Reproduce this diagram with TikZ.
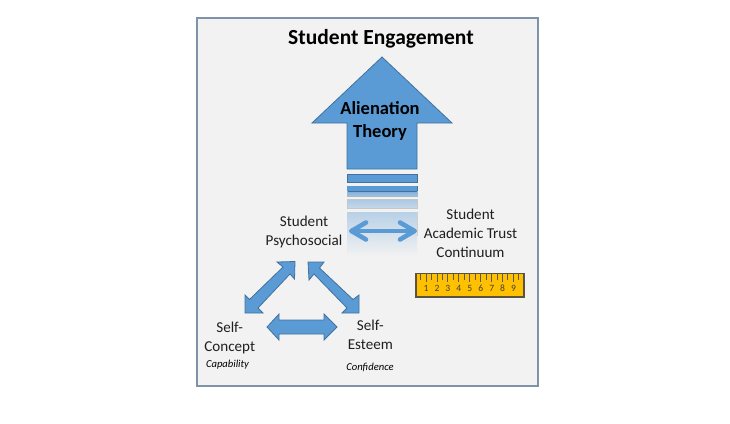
\documentclass[tikz,border=0pt]{standalone}
\usepackage{fontspec}
\setmainfont{Carlito}
\usetikzlibrary{arrows.meta}
\definecolor{panelfill}{HTML}{F2F2F2}
\definecolor{panelline}{HTML}{7F93A8}
\definecolor{blockblue}{HTML}{5B9BD5}
\definecolor{blockline}{HTML}{41719C}
\definecolor{rulerfill}{HTML}{FFC000}
\definecolor{rulerline}{HTML}{5A5340}
\tikzset{
  block/.style={fill=blockblue,draw=blockline,line width=0.8pt,line join=miter},
  fadebar/.style={line width=0.9pt},
  label/.style={font=\fontsize{15.1}{19}\selectfont,align=center,text=black!88,inner sep=0pt},
  note/.style={font=\itshape\fontsize{10.6}{12}\selectfont,text=black,inner sep=0pt},
  rulernum/.style={font=\fontsize{9.6}{9}\selectfont,text=black!75,inner sep=0pt},
  tick/.style={draw=black!65,line width=0.55pt},
  thinarrow/.style={draw=blockblue,line width=4.6pt,line cap=round,line join=round}
}
\begin{document}
\begin{tikzpicture}[x=1pt,y=-1pt]
\useasboundingbox (0,0) rectangle (730,423);
\fill[white] (0,0) rectangle (730,423);
\draw[fill=panelfill,draw=panelline,line width=1.1pt] (197,18) rectangle (538,386);
\node[inner sep=0pt,font=\bfseries\fontsize{21.5}{24}\selectfont] (title) at (381,38.5) {Student Engagement};
% main arrow
\draw[block] (382,57) -- (452,123) -- (417,123) -- (417,169) -- (347,169) -- (347,123) -- (312,123) -- cycle;
\node[inner sep=0pt,align=center,font=\bfseries\fontsize{18.5}{22.5}\selectfont] (theory) at (380,121) {Alienation\\Theory};
% bars
\draw[block] (347,174) rectangle (417,182);
\shade[top color=blockblue,bottom color=blockblue!55!panelfill] (347,186) rectangle (417,196);
\draw[blockline,line width=0.8pt] (347,186) rectangle (417,191);
\fill[blockblue] (347,186.4) rectangle (417,190.6);
\draw[blockline!45!panelfill,fadebar] (347,191) -- (347,196) -- (417,196) -- (417,191);
\draw[fadebar,draw=black!22,top color=blockblue!48!panelfill,bottom color=blockblue!30!panelfill] (347,199) rectangle (417,208);
\shade[top color=blockblue!38!panelfill,bottom color=panelfill] (347,212) rectangle (417,256);
\draw[black!18,line width=0.8pt] (347,236) -- (347,212) -- (417,212) -- (417,236);
\shade[top color=blockblue!38!panelfill,bottom color=panelfill] (347.4,212.4) rectangle (416.6,256);
% horizontal thin double arrow
\coordinate (trustL) at (351.5,231);
\coordinate (trustR) at (414.5,231);
\draw[thinarrow] (trustL) -- (trustR);
\draw[thinarrow] (366,222.5) -- (trustL) -- (366,239.5);
\draw[thinarrow] (400,222.5) -- (trustR) -- (400,239.5);
% labels
\node[label] (psych) at (304,231.5) {Student\\Psychosocial};
\node[label] (trust) at (470.5,233) {Student\\Academic Trust\\Continuum};
\node[label] (concept) at (229.7,337.5) {Self-\\Concept};
\node[label] (esteem) at (370.3,335) {Self-\\Esteem};
\node[note] (cap) at (227.5,365) {Capability};
\node[note] (conf) at (370,367) {Confidence};
% block arrows of the triangle
\draw[block] (295,261.5) -- (294.5,279) -- (290,274) -- (258,308) -- (263,313) -- (245,313) -- (245,295) -- (249.5,299.5) -- (283,267) -- (277,262) -- cycle;
\draw[block] (308,262) -- (324,262) -- (319.5,268) -- (353,299.5) -- (359,295) -- (359,313) -- (342,313) -- (347,308) -- (314,274) -- (309,280) -- cycle;
\draw[block] (267,327) -- (279,314) -- (279,320) -- (324,320) -- (324,314) -- (337,327) -- (324,340) -- (324,334) -- (279,334) -- (279,340) -- cycle;
% ruler
\draw[fill=rulerfill,draw=rulerline,line width=1.1pt] (416,273.5) rectangle (524,297);
\foreach \i in {0,...,19}{
  \pgfmathsetmacro{\xx}{420.5+\i*5.45}
  \pgfmathtruncatemacro{\odd}{mod(\i,2)}
  \ifnum\odd=0 \draw[tick] (\xx,274) -- (\xx,279.5); \else \draw[tick] (\xx,274) -- (\xx,282); \fi
}
\foreach \n in {1,...,9}{
  \node[rulernum] (num\n) at ({426+(\n-1)*10.95},288) {\n};
}
\end{tikzpicture}
\end{document}
